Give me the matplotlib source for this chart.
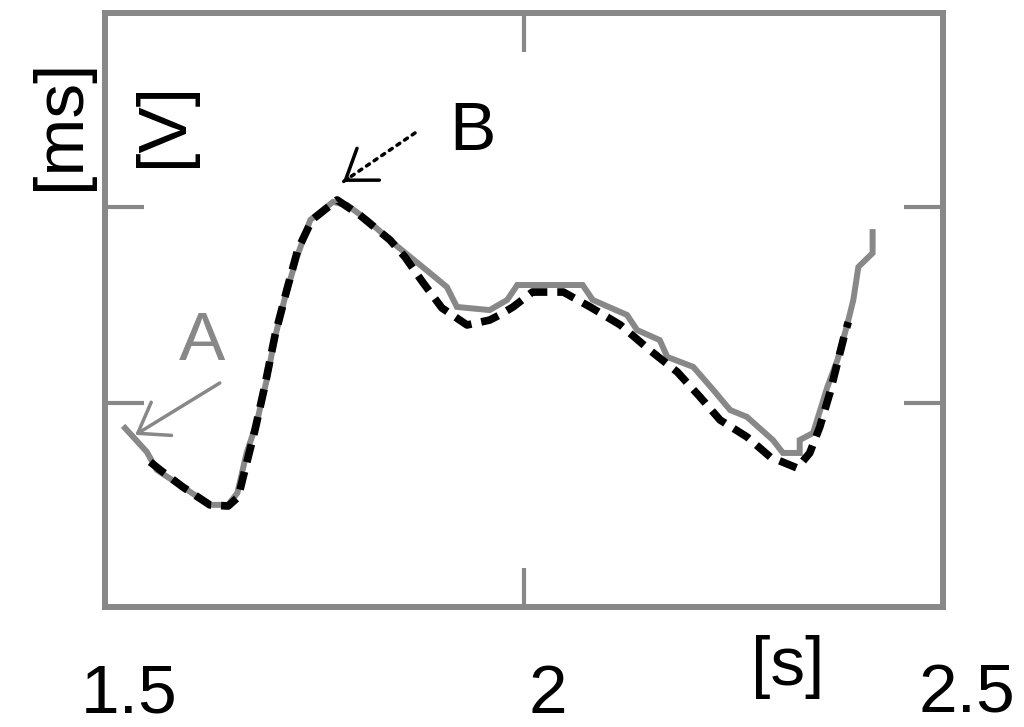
import matplotlib
matplotlib.use("Agg")
import matplotlib.pyplot as plt
from matplotlib.transforms import ScaledTranslation

plt.rcParams["font.family"] = ["Liberation Sans", "DejaVu Sans"]

# measured trace (gray, solid)
t_meas = [1.524, 1.550, 1.562, 1.593, 1.625, 1.647, 1.658, 1.669, 1.681, 1.693,
          1.703, 1.715, 1.729, 1.745, 1.772, 1.789, 1.813, 1.844, 1.879, 1.908,
          1.920, 1.959, 1.980, 1.992, 2.070, 2.082, 2.123, 2.135, 2.162, 2.171,
          2.202, 2.226, 2.246, 2.266, 2.297, 2.309, 2.329, 2.329, 2.345, 2.362,
          2.374, 2.385, 2.393, 2.399, 2.416, 2.416]
v_meas = [0.872, 0.750, 0.658, 0.571, 0.480, 0.480, 0.541, 0.745, 0.898, 1.117,
          1.337, 1.541, 1.745, 1.934, 2.026, 2.010, 1.934, 1.816, 1.694, 1.592,
          1.490, 1.474, 1.526, 1.602, 1.602, 1.526, 1.449, 1.372, 1.321, 1.235,
          1.184, 1.066, 0.964, 0.929, 0.811, 0.745, 0.745, 0.811, 0.847, 1.082,
          1.219, 1.388, 1.526, 1.694, 1.765, 1.872]

# second trace (black, dashed)
t_est = [1.554, 1.566, 1.593, 1.625, 1.647, 1.659, 1.667, 1.679, 1.691, 1.703,
         1.717, 1.730, 1.747, 1.777, 1.804, 1.840, 1.858, 1.879, 1.902, 1.932,
         1.959, 1.971, 1.987, 2.010, 2.047, 2.079, 2.115, 2.150, 2.183, 2.210,
         2.234, 2.266, 2.294, 2.326, 2.341, 2.353, 2.365, 2.374, 2.383, 2.387]
v_est = [0.699, 0.658, 0.571, 0.480, 0.474, 0.520, 0.658, 0.862, 1.092, 1.347,
         1.577, 1.781, 1.934, 2.036, 1.959, 1.832, 1.745, 1.617, 1.485, 1.398,
         1.423, 1.449, 1.490, 1.566, 1.566, 1.490, 1.398, 1.270, 1.158, 1.031,
         0.913, 0.827, 0.724, 0.668, 0.745, 0.878, 1.051, 1.204, 1.357, 1.413]

x_ticks = [1.5, 2, 2.5]
x_tick_labels = ["1.5", "2", "2.5"]
y_ticks = [1, 2]

gray = "#888888"

fig = plt.figure(figsize=(10.24, 7.27), dpi=100)
ax = fig.add_axes([0.1025, 0.1651, 0.8184, 0.8170])

ax.plot(t_meas, v_meas, color=gray, lw=4.3, solid_joinstyle="miter")
ax.plot(t_est, v_est, color="black", lw=5.5, dashes=(2.4, 1.3))

ax.set_xlim(1.5, 2.5)
ax.set_ylim(-0.041, 2.99)

for s in ax.spines.values():
    s.set_color(gray)
    s.set_linewidth(4.3)

ax.set_xticks(x_ticks, x_tick_labels)
ax.set_yticks(y_ticks, [])
ax.tick_params(direction="in", top=True, right=True, length=28, width=3,
               color=gray, labelsize=50, pad=40)
shift = ScaledTranslation(0.24, 0, fig.dpi_scale_trans)
for lab in ax.get_xticklabels():
    lab.set_transform(lab.get_transform() + shift)

head = "->,head_length=1.0,head_width=0.7"

# annotation A
ax.text(1.616, 1.311, "A", color=gray, fontsize=50, ha="center", va="center")
ax.annotate("", xy=(1.536, 0.837), xytext=(1.637, 1.102),
            arrowprops=dict(arrowstyle=head, color=gray, lw=2.5,
                            mutation_scale=20, shrinkA=0, shrinkB=0))

# annotation B: dotted shaft, solid head
ax.text(1.938, 2.383, "B", color="black", fontsize=50, ha="center", va="center")
ax.annotate("", xy=(1.784, 2.128), xytext=(1.870, 2.378),
            arrowprops=dict(arrowstyle="-", color="black", lw=2.5, ls=":",
                            shrinkA=0, shrinkB=0))
ax.annotate("", xy=(1.784, 2.128), xytext=(1.790, 2.146),
            arrowprops=dict(arrowstyle=head, color="black", lw=2.5,
                            mutation_scale=20, shrinkA=0, shrinkB=0))

# unit labels
ax.text(-0.0525, 0.812, "[ms]", transform=ax.transAxes, rotation=90,
        fontsize=50, ha="center", va="center")
ax.text(0.0704, 0.812, "[V]", transform=ax.transAxes, rotation=90,
        fontsize=50, ha="center", va="center")
ax.text(0.815, -0.101, "[s]", transform=ax.transAxes,
        fontsize=50, ha="center", va="center", clip_on=False)

fig.savefig("out.png", dpi=100)
